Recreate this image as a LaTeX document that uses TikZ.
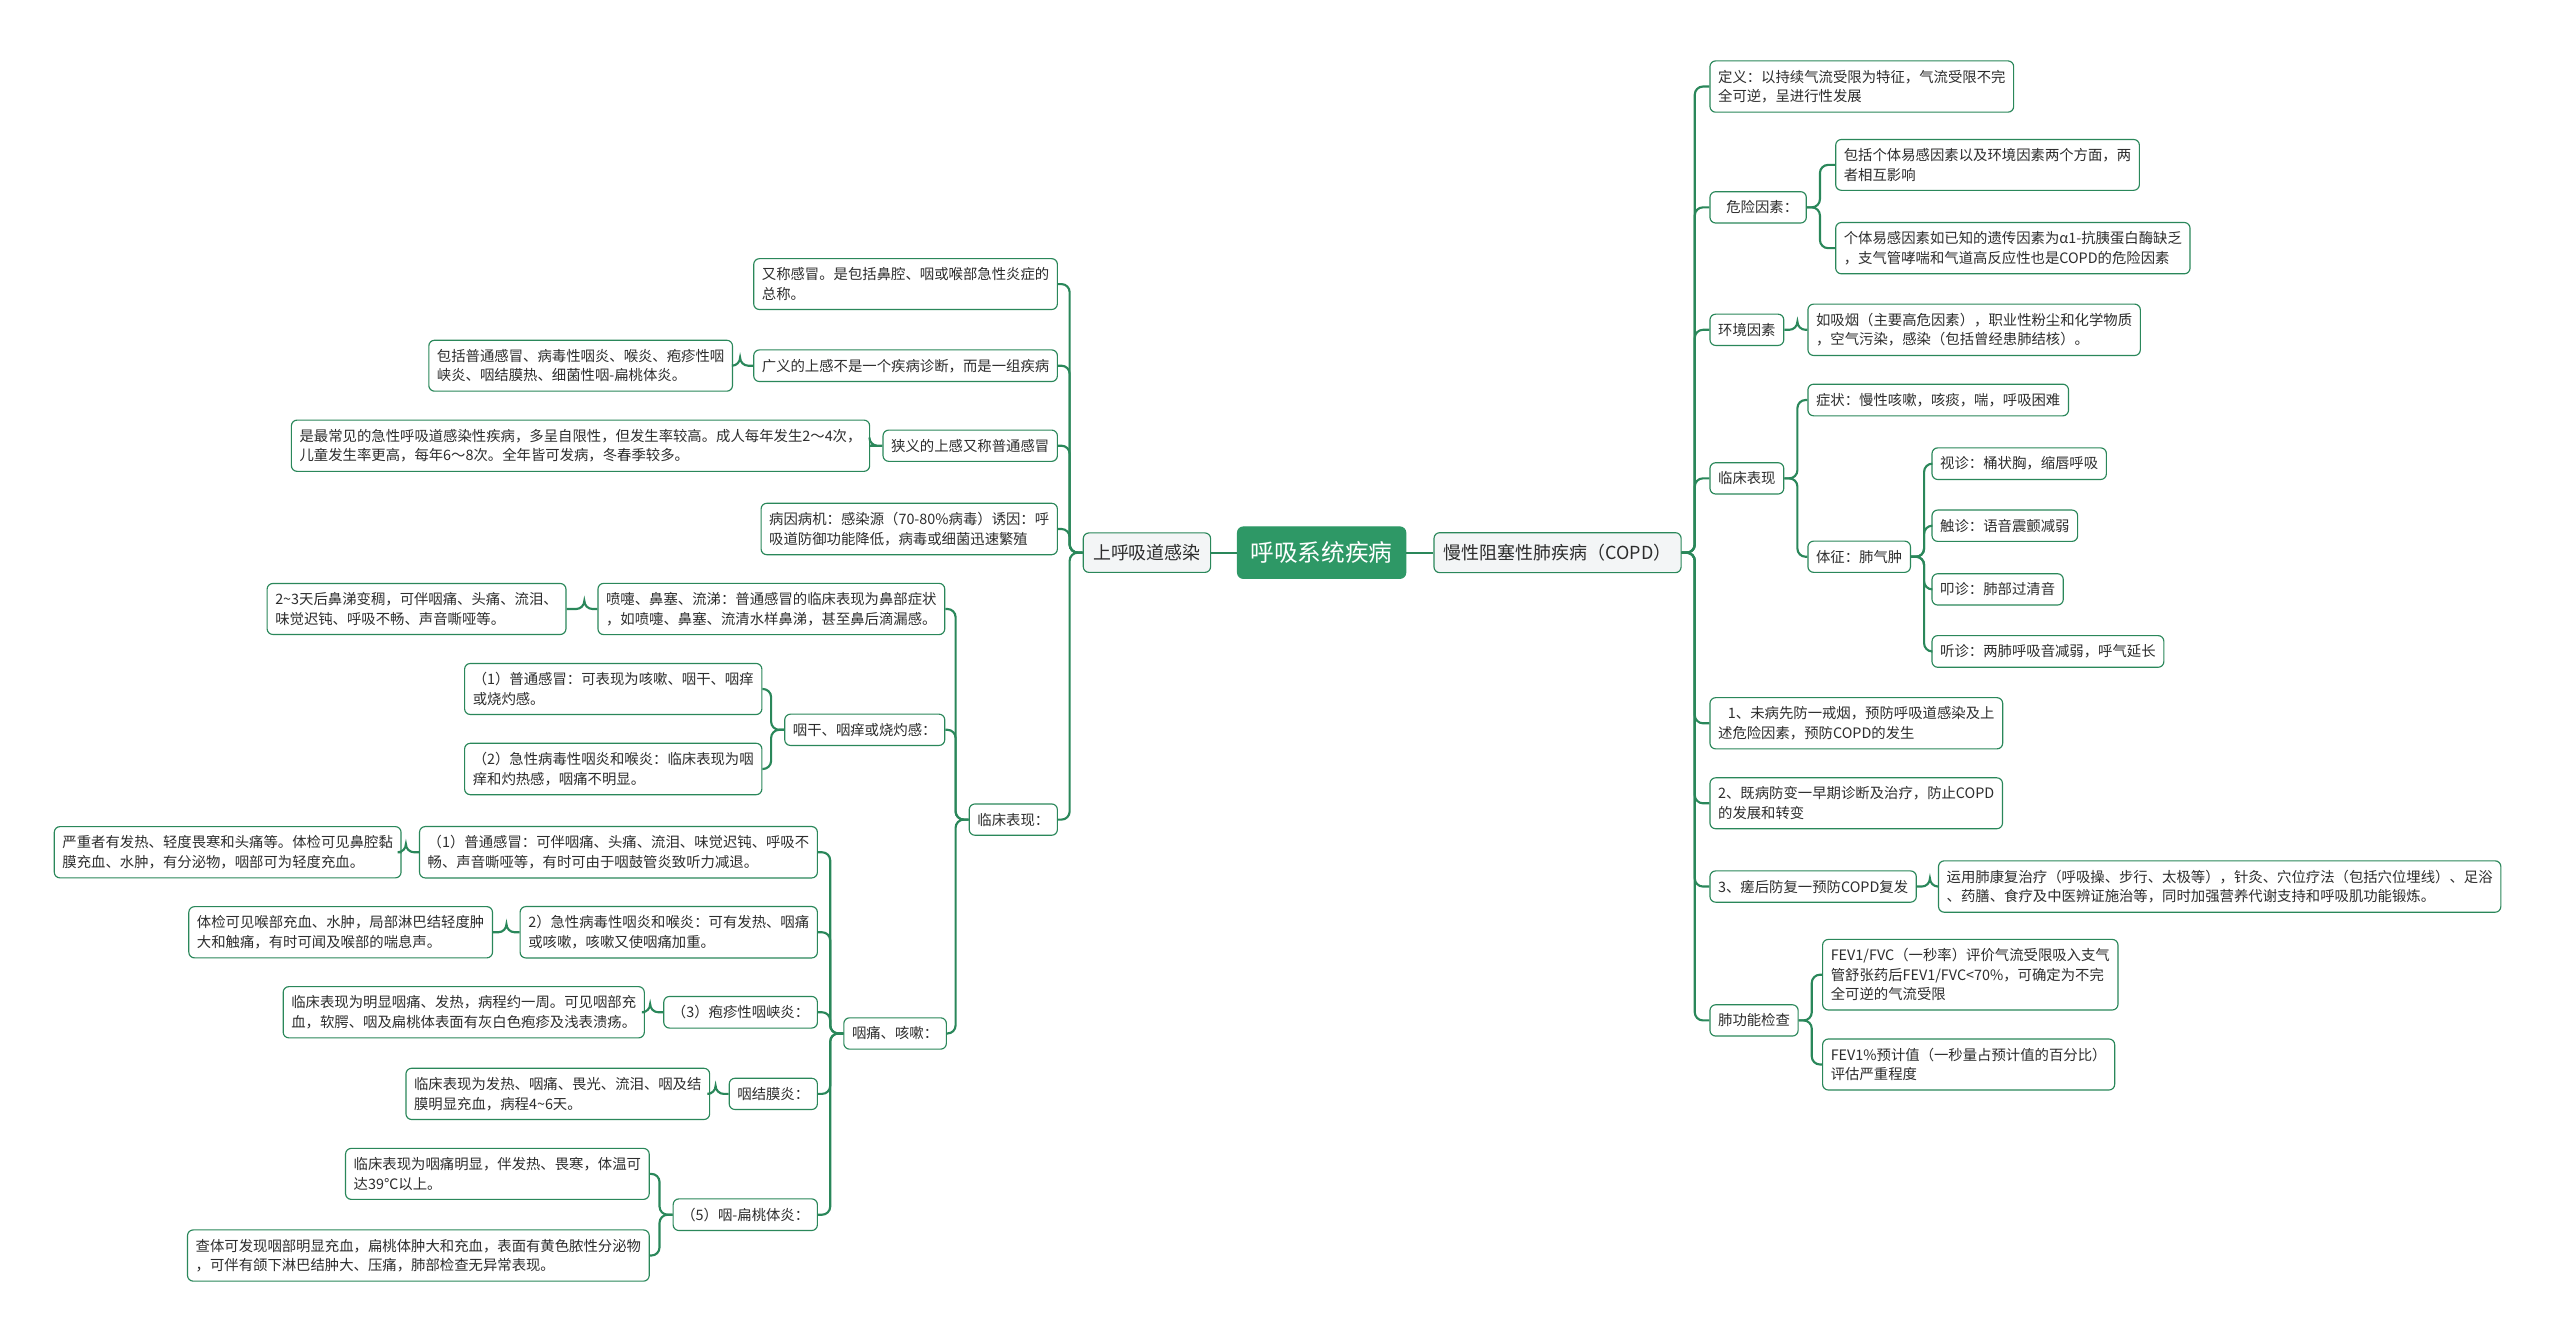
\documentclass[tikz,border=0pt]{standalone}
\usepackage{fontspec}
\setmainfont{Noto Sans CJK SC}
\usepackage{tikz}
\usetikzlibrary{positioning}
\definecolor{lk}{RGB}{42,135,90}
\definecolor{rootg}{RGB}{46,152,102}
\definecolor{pale}{RGB}{243,245,246}
\definecolor{ink}{RGB}{45,45,45}
\tikzset{every node/.append style={text=ink}}

\begin{document}
\begin{tikzpicture}[x=1pt,y=-1pt,
  box/.style={draw=lk,line width=0.7pt,rounded corners=3.5pt,fill=white,align=left,font=\fontsize{8.8}{12}\selectfont,inner xsep=5pt,inner ysep=5.5pt},
  mid/.style={box,fill=pale,font=\fontsize{11}{13}\selectfont,inner xsep=6pt,inner ysep=7pt},
  link/.style={draw=lk,line width=1.3pt,rounded corners=5pt},
  lft/.style={to path={-- ++(-8pt,0) |- (\tikztotarget)}},
  rgt/.style={to path={-- ++(8pt,0) |- (\tikztotarget)}}]
\useasboundingbox (0,0) rectangle (1568,822);
\node[box,fill=rootg,draw=rootg,text=white,font=\fontsize{14.5}{16}\selectfont,inner xsep=8pt,inner ysep=9pt] (root) at (809.5,338.5) {呼吸系统疾病};
\node[mid] (up) at (702.5,338.5) {上呼吸道感染};
\node[mid] (copd) at (954,338.5) {慢性阻塞性肺疾病（COPD）};
\draw[link] (root.west) -- (up.east); \draw[link] (root.east) -- (copd.west);
% upper respiratory infection
\node[box,anchor=east] (c1) at (648,174) {又称感冒。是包括鼻腔、咽或喉部急性炎症的\\总称。};
\node[box,anchor=east] (c2) at (648,224) {广义的上感不是一个疾病诊断，而是一组疾病};
\node[box,anchor=east] (c2a) at (449,224) {包括普通感冒、病毒性咽炎、喉炎、疱疹性咽\\峡炎、咽结膜热、细菌性咽-扁桃体炎。};
\node[box,anchor=east] (c3) at (648,273) {狭义的上感又称普通感冒};
\node[box,anchor=east] (c3a) at (533,273) {是最常见的急性呼吸道感染性疾病，多呈自限性，但发生率较高。成人每年发生2～4次，\\儿童发生率更高，每年6～8次。全年皆可发病，冬春季较多。};
\node[box,anchor=east] (c4) at (648,324) {病因病机：感染源（70-80\%病毒）诱因：呼\\吸道防御功能降低，病毒或细菌迅速繁殖};
\node[box,anchor=east] (c5) at (648,502) {临床表现：};
\node[box,anchor=east] (d1) at (579,373) {喷嚏、鼻塞、流涕：普通感冒的临床表现为鼻部症状\\，如喷嚏、鼻塞、流清水样鼻涕，甚至鼻后滴漏感。};
\node[box,anchor=east] (d1a) at (347,373) {2\textasciitilde3天后鼻涕变稠，可伴咽痛、头痛、流泪、\\味觉迟钝、呼吸不畅、声音嘶哑等。};
\node[box,anchor=east] (d2) at (579,447) {咽干、咽痒或烧灼感：};
\node[box,anchor=east] (d2a) at (467,422) {（1）普通感冒：可表现为咳嗽、咽干、咽痒\\或烧灼感。};
\node[box,anchor=east] (d2b) at (467,471) {（2）急性病毒性咽炎和喉炎：临床表现为咽\\痒和灼热感，咽痛不明显。};
\node[box,anchor=east] (d3) at (580,633) {咽痛、咳嗽：};
\node[box,anchor=east] (e1) at (501,522) {（1）普通感冒：可伴咽痛、头痛、流泪、味觉迟钝、呼吸不\\畅、声音嘶哑等，有时可由于咽鼓管炎致听力减退。};
\node[box,anchor=east] (e1a) at (246,522) {严重者有发热、轻度畏寒和头痛等。体检可见鼻腔黏\\膜充血、水肿，有分泌物，咽部可为轻度充血。};
\node[box,anchor=east] (e2) at (501,571) {2）急性病毒性咽炎和喉炎：可有发热、咽痛\\或咳嗽，咳嗽又使咽痛加重。};
\node[box,anchor=east] (e2a) at (302,571) {体检可见喉部充血、水肿，局部淋巴结轻度肿\\大和触痛，有时可闻及喉部的喘息声。};
\node[box,anchor=east] (e3) at (501,620) {（3）疱疹性咽峡炎：};
\node[box,anchor=east] (e3a) at (395,620) {临床表现为明显咽痛、发热，病程约一周。可见咽部充\\血，软腭、咽及扁桃体表面有灰白色疱疹及浅表溃疡。};
\node[box,anchor=east] (e4) at (501,670) {咽结膜炎：};
\node[box,anchor=east] (e4a) at (435,670) {临床表现为发热、咽痛、畏光、流泪、咽及结\\膜明显充血，病程4\textasciitilde6天。};
\node[box,anchor=east] (e5) at (501,744) {（5）咽-扁桃体炎：};
\node[box,anchor=east] (e5a) at (398,719) {临床表现为咽痛明显，伴发热、畏寒，体温可\\达39℃以上。};
\node[box,anchor=east] (e5b) at (398,769) {查体可发现咽部明显充血，扁桃体肿大和充血，表面有黄色脓性分泌物\\，可伴有颌下淋巴结肿大、压痛，肺部检查无异常表现。};
\foreach \c in {c1,c2,c3,c4,c5} \draw[link] (up.west) to[lft] (\c.east);
\draw[link] (c2.west) to[lft] (c2a.east); \draw[link] (c3.west) to[lft] (c3a.east);
\foreach \c in {d1,d2,d3} \draw[link] (c5.west) to[lft] (\c.east);
\draw[link] (d1.west) to[lft] (d1a.east);
\foreach \c in {d2a,d2b} \draw[link] (d2.west) to[lft] (\c.east);
\foreach \c in {e1,e2,e3,e4,e5} \draw[link] (d3.west) to[lft] (\c.east);
\draw[link] (e1.west) to[lft] (e1a.east); \draw[link] (e2.west) to[lft] (e2a.east);
\draw[link] (e3.west) to[lft] (e3a.east); \draw[link] (e4.west) to[lft] (e4a.east);
\foreach \c in {e5a,e5b} \draw[link] (e5.west) to[lft] (\c.east);
% COPD
\node[box,anchor=west] (r1) at (1047,53) {定义：以持续气流受限为特征，气流受限不完\\全可逆，呈进行性发展};
\node[box,anchor=west] (r2) at (1047,127) {\hspace*{5pt}危险因素：};
\node[box,anchor=west] (r2a) at (1124,101) {包括个体易感因素以及环境因素两个方面，两\\者相互影响};
\node[box,anchor=west] (r2b) at (1124,152) {个体易感因素如已知的遗传因素为α1-抗胰蛋白酶缺乏\\，支气管哮喘和气道高反应性也是COPD的危险因素};
\node[box,anchor=west] (r3) at (1047,202) {环境因素};
\node[box,anchor=west] (r3a) at (1107,202) {如吸烟（主要高危因素），职业性粉尘和化学物质\\，空气污染，感染（包括曾经患肺结核）。};
\node[box,anchor=west] (r4) at (1047,293) {临床表现};
\node[box,anchor=west] (r4a) at (1107,245) {症状：慢性咳嗽，咳痰，喘，呼吸困难};
\node[box,anchor=west] (r4b) at (1107,341) {体征：肺气肿};
\node[box,anchor=west] (s1) at (1183,284) {视诊：桶状胸，缩唇呼吸};
\node[box,anchor=west] (s2) at (1183,322) {触诊：语音震颤减弱};
\node[box,anchor=west] (s3) at (1183,361) {叩诊：肺部过清音};
\node[box,anchor=west] (s4) at (1183,399) {听诊：两肺呼吸音减弱，呼气延长};
\node[box,anchor=west] (r5) at (1047,443) {\hspace*{6pt}1、未病先防一戒烟，预防呼吸道感染及上\\述危险因素，预防COPD的发生};
\node[box,anchor=west] (r6) at (1047,492) {2、既病防变一早期诊断及治疗，防止COPD\\的发展和转变};
\node[box,anchor=west] (r7) at (1047,543) {3、瘥后防复一预防COPD复发};
\node[box,anchor=west] (r7a) at (1187,543) {运用肺康复治疗（呼吸操、步行、太极等），针灸、穴位疗法（包括穴位埋线）、足浴\\、药膳、食疗及中医辨证施治等，同时加强营养代谢支持和呼吸肌功能锻炼。};
\node[box,anchor=west] (r8) at (1047,625) {肺功能检查};
\node[box,anchor=west] (r8a) at (1116,597) {FEV1/FVC（一秒率）评价气流受限吸入支气\\管舒张药后FEV1/FVC<70\%，可确定为不完\\全可逆的气流受限};
\node[box,anchor=west] (r8b) at (1116,652) {FEV1\%预计值（一秒量占预计值的百分比）\\评估严重程度};
\foreach \c in {r1,r2,r3,r4,r5,r6,r7,r8} \draw[link] (copd.east) to[rgt] (\c.west);
\foreach \c in {r2a,r2b} \draw[link] (r2.east) to[rgt] (\c.west);
\draw[link] (r3.east) to[rgt] (r3a.west);
\foreach \c in {r4a,r4b} \draw[link] (r4.east) to[rgt] (\c.west);
\foreach \c in {s1,s2,s3,s4} \draw[link] (r4b.east) to[rgt] (\c.west);
\draw[link] (r7.east) to[rgt] (r7a.west);
\foreach \c in {r8a,r8b} \draw[link] (r8.east) to[rgt] (\c.west);
\end{tikzpicture}
\end{document}
